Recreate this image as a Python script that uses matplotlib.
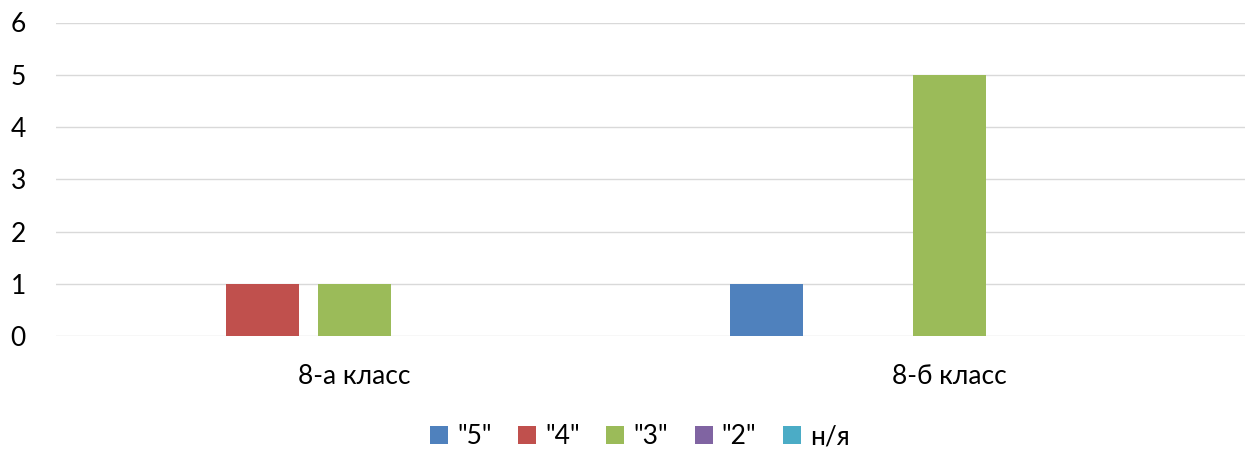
import matplotlib

matplotlib.use("Agg")
import matplotlib.pyplot as plt
import numpy as np

plt.rcParams["font.family"] = ["Lato", "DejaVu Sans"]

CATEGORIES = ["8-а класс", "8-б класс"]
SERIES = ['"5"', '"4"', '"3"', '"2"', "н/я"]
VALUES = [
    [0, 1],  # "5"
    [1, 0],  # "4"
    [1, 5],  # "3"
    [0, 0],  # "2"
    [0, 0],  # н/я
]
COLORS = ["#4F81BD", "#C0504D", "#9BBB59", "#8064A2", "#4BACC6"]
GRID = "#D9D9D9"

W, H = 1245, 454
fig = plt.figure(figsize=(W / 100, H / 100), dpi=100)
ax = fig.add_axes([56.5 / W, (H - 336) / H, 1190 / W, 313.5 / H])

x = np.arange(len(CATEGORIES))
slot = 91.5 / 595
bw = 73 / 595
for j, (name, vals) in enumerate(zip(SERIES, VALUES)):
    ax.bar(x + (j - 2) * slot, vals, bw, color=COLORS[j], label=name, linewidth=0, zorder=3)

ax.set_xlim(-0.5, 1.5)
ax.set_ylim(0, 6)
ax.set_yticks(range(0, 7))
ax.set_xticks(x)
ax.set_xticklabels(CATEGORIES)
ax.grid(axis="y", color=GRID, lw=1.0, zorder=0)
ax.tick_params(axis="both", length=0, labelsize=19, colors="#000000")
ax.tick_params(axis="y", pad=22)
ax.tick_params(axis="x", pad=20)
for s in ax.spines.values():
    s.set_visible(False)

fig.legend(
    loc="center", bbox_to_anchor=(640 / W, 1 - 437 / H), ncol=5, frameon=False,
    fontsize=19, handlelength=0.68, handleheight=0.68, handletextpad=0.35,
    columnspacing=1.0,
)

fig.savefig("out.png", dpi=100, facecolor="white")
